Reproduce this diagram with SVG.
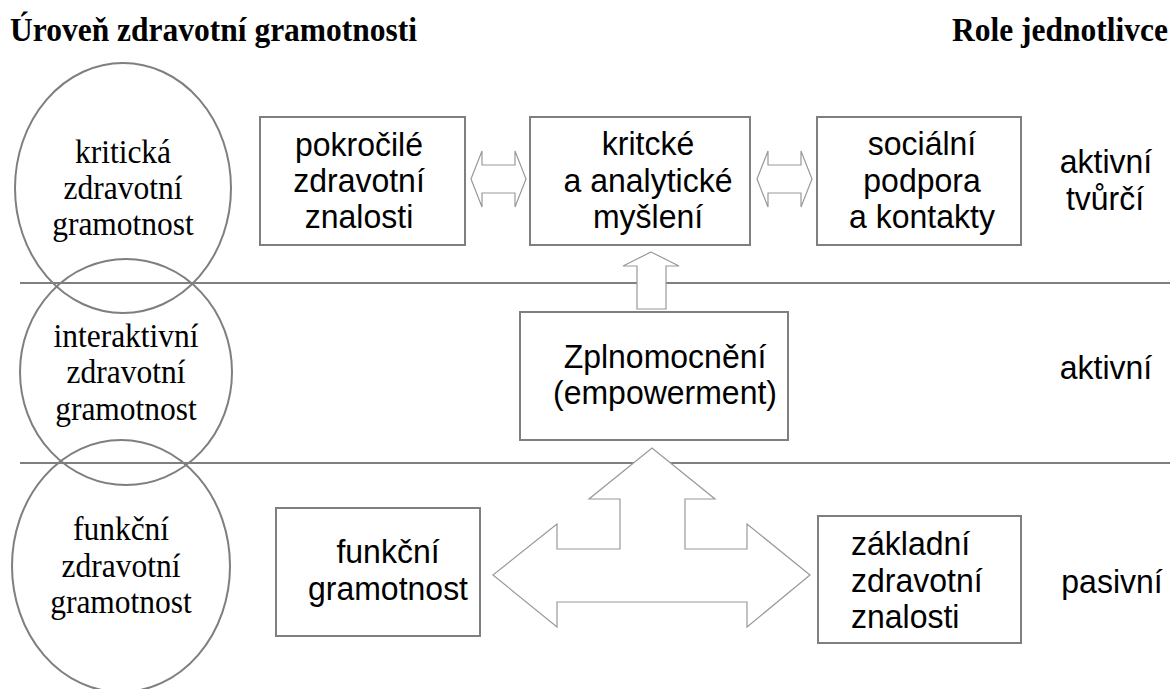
<svg xmlns="http://www.w3.org/2000/svg" width="1170" height="689" viewBox="0 0 1170 689">
<style>
.hdr{font-family:"Liberation Serif","Times New Roman",serif;font-weight:bold;font-size:31.5px;fill:#000}
.ser{font-family:"Liberation Serif","Times New Roman",serif;font-size:31.5px;fill:#000;text-anchor:middle}
.san{font-family:"Liberation Sans",Arial,sans-serif;font-size:32px;fill:#000}
.mid{text-anchor:middle}
.ell{fill:none;stroke:#7f7f7f;stroke-width:2}
.box{fill:#fff;stroke:#7f7f7f;stroke-width:2}
.sep{stroke:#7f7f7f;stroke-width:2}
.arr{fill:#fff;stroke:#999;stroke-width:1.2;stroke-linejoin:miter}
</style>
<rect width="1170" height="689" fill="#fff"/>
<text class="hdr" transform="translate(10,41) scale(1,1.1)">Úroveň zdravotní gramotnosti</text>
<text class="hdr" text-anchor="end" transform="translate(1168,41) scale(1,1.1)">Role jednotlivce</text>

<g id="separators">
<line class="sep" x1="20" y1="283" x2="1170" y2="283"/>
<line class="sep" x1="20" y1="463" x2="1170" y2="463"/>
</g>

<g id="ellipse-kriticka">
<ellipse class="ell" cx="123" cy="188" rx="108" ry="125"/>
<text class="ser" transform="translate(123,163) scale(1,1.05)">kritická</text>
<text class="ser" transform="translate(123,199) scale(1,1.05)">zdravotní</text>
<text class="ser" transform="translate(123,235) scale(1,1.05)">gramotnost</text>
</g>
<g id="ellipse-interaktivni">
<ellipse class="ell" cx="126" cy="372" rx="106" ry="113"/>
<text class="ser" transform="translate(126,347) scale(1,1.05)">interaktivní</text>
<text class="ser" transform="translate(126,383) scale(1,1.05)">zdravotní</text>
<text class="ser" transform="translate(126,420) scale(1,1.05)">gramotnost</text>
</g>
<g id="ellipse-funkcni">
<ellipse class="ell" cx="121" cy="566" rx="109" ry="126"/>
<text class="ser" transform="translate(121,540) scale(1,1.05)">funkční</text>
<text class="ser" transform="translate(121,577) scale(1,1.05)">zdravotní</text>
<text class="ser" transform="translate(121,613) scale(1,1.05)">gramotnost</text>
</g>

<g id="connectors">
<polygon class="arr" points="471,179 482,151 482,165 515,165 515,151 526,179 515,207 515,193 482,193 482,207"/>
<polygon class="arr" points="757,179 768,151 768,165 801,165 801,151 812,179 801,207 801,193 768,193 768,207"/>
<polygon class="arr" points="651,252 679,266 666,266 666,309 637,309 637,266 623,266"/>
<polygon class="arr" points="652,448 715,499 685,499 685,549 747,549 747,524 810,575 747,627 747,602 557,602 557,627 493,575 557,524 557,549 620,549 620,499 589,499"/>
</g>

<g id="box-pokrocile">
<rect class="box" x="260" y="117" width="205" height="128"/>
<text class="san mid" transform="translate(359,156) scale(1,1.05)">pokročilé</text>
<text class="san mid" transform="translate(359,192) scale(1,1.05)">zdravotní</text>
<text class="san mid" transform="translate(359,228) scale(1,1.05)">znalosti</text>
</g>
<g id="box-kriticke">
<rect class="box" x="530" y="117" width="220" height="128"/>
<text class="san mid" transform="translate(648,155) scale(1,1.05)">kritcké</text>
<text class="san mid" transform="translate(648,192) scale(1,1.05)">a analytické</text>
<text class="san mid" transform="translate(648,228) scale(1,1.05)">myšlení</text>
</g>
<g id="box-socialni">
<rect class="box" x="817" y="117" width="204" height="128"/>
<text class="san mid" transform="translate(922,155) scale(1,1.05)">sociální</text>
<text class="san mid" transform="translate(922,192) scale(1,1.05)">podpora</text>
<text class="san mid" transform="translate(922,228) scale(1,1.05)">a kontakty</text>
</g>
<g id="box-zplnomocneni">
<rect class="box" x="520" y="312" width="268" height="128"/>
<text class="san mid" transform="translate(665,368) scale(1,1.05)">Zplnomocnění</text>
<text class="san mid" transform="translate(665,404) scale(1,1.05)">(empowerment)</text>
</g>
<g id="box-funkcni">
<rect class="box" x="276" y="508" width="204" height="128"/>
<text class="san mid" transform="translate(388,563) scale(1,1.05)">funkční</text>
<text class="san mid" transform="translate(388,600) scale(1,1.05)">gramotnost</text>
</g>
<g id="box-zakladni">
<rect class="box" x="818" y="516" width="203" height="127"/>
<text class="san" transform="translate(851,555) scale(1,1.05)">základní</text>
<text class="san" transform="translate(851,592) scale(1,1.05)">zdravotní</text>
<text class="san" transform="translate(851,628) scale(1,1.05)">znalosti</text>
</g>

<g id="role-labels">
<text class="san mid" transform="translate(1106,173) scale(1,1.05)">aktivní</text>
<text class="san mid" transform="translate(1105,210) scale(1,1.05)">tvůrčí</text>
<text class="san mid" transform="translate(1106,379) scale(1,1.05)">aktivní</text>
<text class="san mid" transform="translate(1112,593) scale(1,1.05)">pasivní</text>
</g>
</svg>
